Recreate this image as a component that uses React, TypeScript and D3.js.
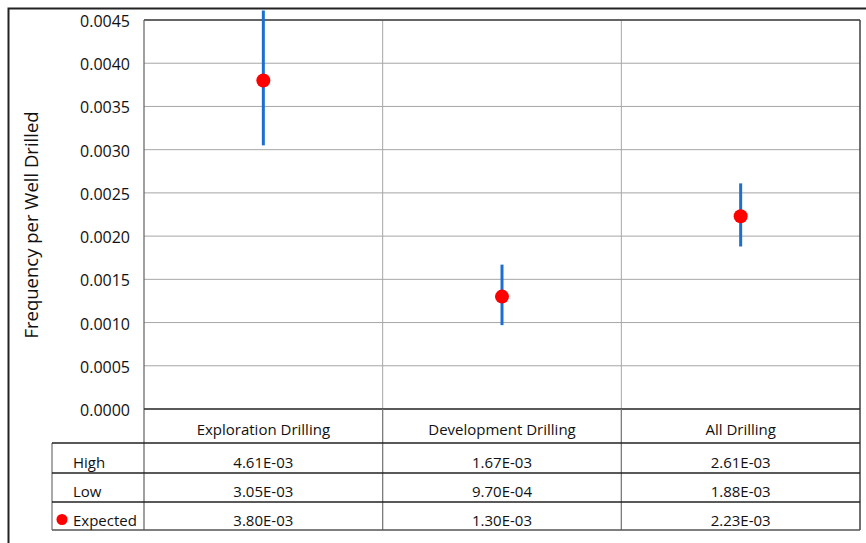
import React from "react";
import * as d3 from "d3";

const categories = ["Exploration Drilling", "Development Drilling", "All Drilling"];
const highValues = [4.61e-3, 1.67e-3, 2.61e-3];
const lowValues = [3.05e-3, 9.7e-4, 1.88e-3];
const expectedValues = [3.8e-3, 1.3e-3, 2.23e-3];
const yTicks = [0, 0.0005, 0.001, 0.0015, 0.002, 0.0025, 0.003, 0.0035, 0.004, 0.0045];
const rowLabels = ["High", "Low", "Expected"];

const W = 866;
const H = 543;
const plot = { left: 144, right: 860, top: 20, bottom: 409 };
const tableLeft = 52;
const headerBottom = 443;
const rowBottoms = [473, 502, 530];
const FONT = "'Open Sans', 'Liberation Sans', sans-serif";

function fmtE(v: number): string {
  const [m, e] = v.toExponential(2).split("e");
  const n = parseInt(e, 10);
  const sign = n < 0 ? "-" : "+";
  const abs = Math.abs(n).toString().padStart(2, "0");
  return `${m}E${sign}${abs}`;
}

export default function App() {
  const x = d3.scaleBand<string>().domain(categories).range([plot.left, plot.right]).padding(0);
  const y = d3.scaleLinear().domain([0, 0.0045]).range([plot.bottom, plot.top]);
  const bw = x.bandwidth();
  const rowTops = [headerBottom, ...rowBottoms.slice(0, 2)];
  const rows = [highValues, lowValues, expectedValues];

  return (
    <svg
      width={W}
      height={H}
      style={{ position: "absolute", left: 0, top: 0, background: "#fff" }}
      fontFamily={FONT}
    >
      <rect x={0} y={0} width={W} height={H} fill="#fff" />
      {/* outer frame */}
      <rect x={8.5} y={8.5} width={W + 20} height={H + 20} fill="none" stroke="#222" strokeWidth={2} />

      {/* horizontal gridlines */}
      {yTicks.map((t) => (
        <line key={"g" + t} x1={plot.left} x2={plot.right} y1={y(t)} y2={y(t)} stroke="#a6a6a6" strokeWidth={1} />
      ))}
      {/* vertical category separators in plot */}
      {categories.slice(1).map((c) => (
        <line key={"v" + c} x1={x(c)!} x2={x(c)!} y1={plot.top} y2={plot.bottom} stroke="#a6a6a6" strokeWidth={1} />
      ))}
      {/* plot border */}
      <line x1={plot.left} x2={plot.right} y1={plot.top} y2={plot.top} stroke="#404040" strokeWidth={1.3} />
      <line x1={plot.right} x2={plot.right} y1={plot.top} y2={rowBottoms[2]} stroke="#404040" strokeWidth={1.5} />
      <line x1={plot.left} x2={plot.left} y1={plot.top} y2={rowBottoms[2]} stroke="#606060" strokeWidth={1.2} />
      <line x1={plot.left} x2={plot.right} y1={plot.bottom} y2={plot.bottom} stroke="#303030" strokeWidth={1.3} />

      {/* y tick labels */}
      {yTicks.map((t) => (
        <text key={"t" + t} x={130} y={y(t) + 1} textAnchor="end" dominantBaseline="central" fontSize={16} fill="#111">
          {t.toFixed(4)}
        </text>
      ))}

      {/* y axis title */}
      <text
        transform={`translate(30,225) rotate(-90)`}
        textAnchor="middle"
        dominantBaseline="central"
        fontSize={18.5}
        fill="#111"
      >
        Frequency per Well Drilled
      </text>

      {/* error bars and points */}
      {categories.map((c, i) => {
        const cx = x(c)! + bw / 2;
        return (
          <g key={"m" + c}>
            <line x1={cx} x2={cx} y1={y(highValues[i])} y2={y(lowValues[i])} stroke="#1a6fd0" strokeWidth={3} />
            <circle cx={cx} cy={y(expectedValues[i])} r={7} fill="#ff0000" />
          </g>
        );
      })}

      {/* data table */}
      {categories.slice(1).map((c) => (
        <line key={"tv" + c} x1={x(c)!} x2={x(c)!} y1={plot.bottom} y2={rowBottoms[2]} stroke="#7a7a7a" strokeWidth={1.3} />
      ))}
      <line x1={tableLeft} x2={tableLeft} y1={headerBottom} y2={rowBottoms[2]} stroke="#7a7a7a" strokeWidth={1.3} />
      <line x1={tableLeft} x2={plot.right} y1={headerBottom} y2={headerBottom} stroke="#222" strokeWidth={1.3} />
      {rowBottoms.map((b, i) => (
        <line key={"rb" + i} x1={tableLeft} x2={plot.right} y1={b} y2={b} stroke={i === 2 ? "#555" : "#222"} strokeWidth={1.3} />
      ))}

      {categories.map((c) => (
        <text key={"h" + c} x={x(c)! + bw / 2} y={(plot.bottom + headerBottom) / 2 + 2.5} textAnchor="middle" dominantBaseline="central" fontSize={15} fill="#111">
          {c}
        </text>
      ))}

      {rows.map((vals, r) => {
        const cy = (rowTops[r] + rowBottoms[r]) / 2 + 3.5;
        return (
          <g key={"row" + r}>
            {r === 2 && <circle cx={62} cy={cy} r={5.5} fill="#ff0000" />}
            <text x={73} y={cy} dominantBaseline="central" fontSize={15} fill="#111">
              {rowLabels[r]}
            </text>
            {categories.map((c, i) => (
              <text key={c} x={x(c)! + bw / 2} y={cy} textAnchor="middle" dominantBaseline="central" fontSize={15} fill="#111">
                {fmtE(vals[i])}
              </text>
            ))}
          </g>
        );
      })}
    </svg>
  );
}
